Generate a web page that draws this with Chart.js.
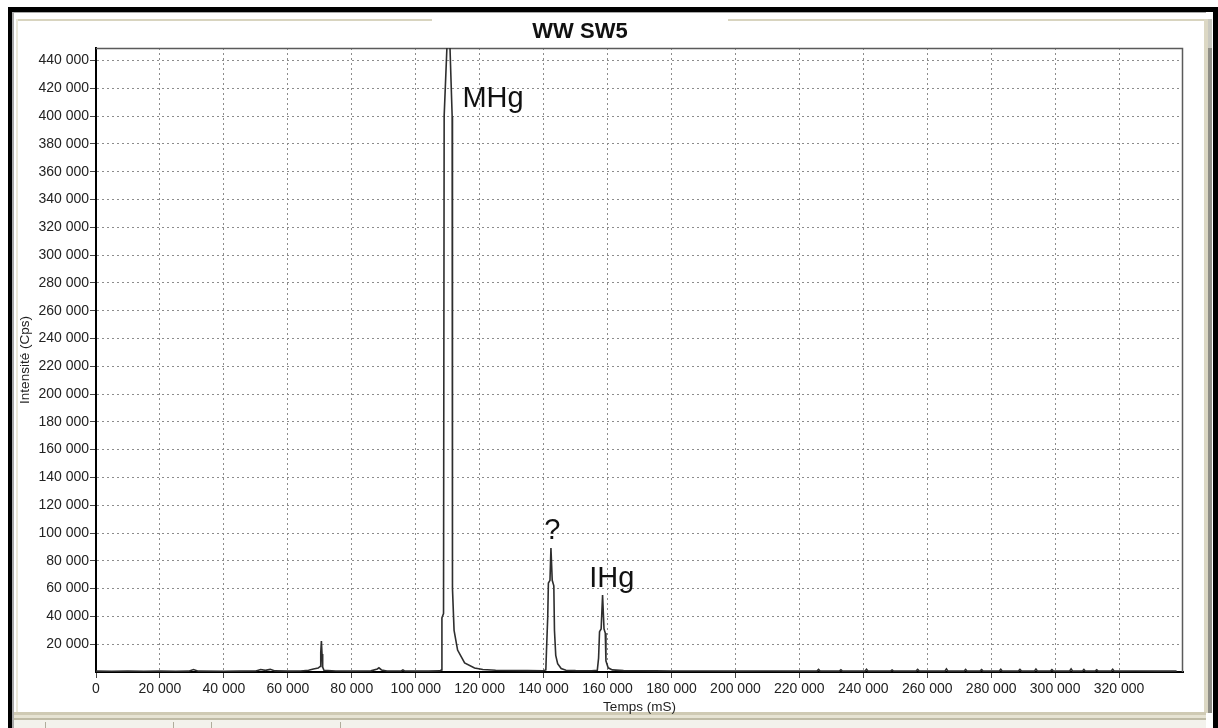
<!DOCTYPE html>
<html>
<head>
<meta charset="utf-8">
<script src="https://cdn.jsdelivr.net/npm/chart.js@4.4.0/dist/chart.umd.min.js"></script>
<style>
html,body{margin:0;padding:0;background:#fff;overflow:hidden}
#wrap{width:1218px;height:728px;position:relative}
</style>
</head>
<body>
<div id="wrap"><canvas id="c" width="1218" height="728"></canvas></div>
<script>
// ---- Data ----
const chartTitle = 'WW SW5';
const xAxisTitle = 'Temps (mS)';
const yAxisTitle = 'Intensité (Cps)';

const xTicks = [0, 20000, 40000, 60000, 80000, 100000, 120000, 140000, 160000, 180000,
                200000, 220000, 240000, 260000, 280000, 300000, 320000];
const yTicks = [20000, 40000, 60000, 80000, 100000, 120000, 140000, 160000, 180000, 200000,
                220000, 240000, 260000, 280000, 300000, 320000, 340000, 360000, 380000, 400000,
                420000, 440000];

const tempsMs = [
  0, 5000, 10000, 15000, 20000, 25000, 29000, 30500, 32000, 40000,
  45000, 50000, 51500, 53000, 54500, 56000, 60000, 64000, 66500, 68000,
  69500, 70100, 70300, 70500, 70700, 70900, 71300, 75000, 80000, 86000,
  88000, 88500, 89300, 91000, 95500, 96000, 96500, 100000, 104000, 107500,
  108100, 108200, 108700, 108900, 110300, 111400, 111500, 112000, 113100, 115300,
  118400, 121000, 125000, 130000, 135000, 139800, 140700, 140900, 141300, 141500,
  142000, 142300, 142700, 143200, 143400, 143800, 144400, 145500, 147000, 150000,
  155000, 156800, 157200, 157500, 158000, 158450, 158900, 159300, 159500, 160200,
  161500, 165000, 170000, 175000, 180000, 190000, 200000, 210000, 220000, 225500,
  226000, 226500, 232500, 233000, 233500, 240500, 241000, 241500, 248500, 249000,
  249500, 256500, 257000, 257500, 265500, 266000, 266500, 271500, 272000, 272500,
  276500, 277000, 277500, 282500, 283000, 283500, 288500, 289000, 289500, 293500,
  294000, 294500, 298500, 299000, 299500, 304500, 305000, 305500, 308500, 309000,
  309500, 312500, 313000, 313500, 317500, 318000, 318500, 325000, 332000, 338000
];
const intensiteCps = [
  600, 500, 600, 500, 600, 500, 600, 1800, 600, 500,
  600, 700, 1800, 1200, 1900, 800, 600, 700, 1200, 2200,
  2800, 4000, 14000, 22300, 13000, 3500, 1200, 700, 600, 800,
  2200, 3000, 1500, 700, 700, 1500, 700, 600, 600, 800,
  1500, 39000, 42000, 400000, 480000, 400000, 60000, 30000, 15800, 6500,
  2900, 1800, 1300, 1100, 1000, 900, 1500, 15000, 40000, 64000,
  66000, 89200, 66000, 62000, 30000, 12000, 6000, 2500, 1300, 1000,
  900, 1200, 10000, 29000, 31000, 55400, 31000, 28000, 8000, 3000,
  1500, 1000, 900, 800, 700, 700, 600, 700, 600, 600,
  1800, 600, 600, 1600, 600, 600, 2000, 600, 600, 1500,
  600, 600, 1800, 600, 600, 2200, 600, 600, 1900, 600,
  600, 1700, 600, 600, 2000, 600, 600, 1800, 600, 600,
  2100, 600, 600, 1700, 600, 600, 2200, 600, 600, 1900,
  600, 600, 1600, 600, 600, 2000, 600, 700, 600, 600
];

const peakLabels = ['MHg', '?', 'IHg'];
const peakLabelX = [114600, 140200, 154300];
const peakLabelY = [406500, 95700, 61200];

// ---- Helpers ----
const fmt = v => String(Math.round(v)).replace(/\B(?=(\d{3})+(?!\d))/g, ' ');
const FONT = "'Liberation Sans', Arial, sans-serif";

const points = tempsMs.map((t, i) => ({x: t, y: intensiteCps[i]}));

// Window decoration (screenshot frame) drawn behind the chart
const framePlugin = {
  id: 'frame',
  beforeDraw(chart) {
    const ctx = chart.ctx;
    const W = chart.width, H = chart.height;
    ctx.save();
    ctx.fillStyle = '#ffffff';
    ctx.fillRect(0, 0, W, H);
    // inner window light gray edges
    ctx.fillStyle = '#a9a9a9';
    ctx.fillRect(12, 12, 2, H - 12);
    ctx.fillRect(12, 12, W - 24, 1);
    // beige lines
    ctx.fillStyle = '#d8d4bf';
    ctx.fillRect(16, 19, 432 - 16, 2);
    ctx.fillRect(728, 19, 1208 - 728, 2);
    ctx.fillStyle = '#ebe8da';
    ctx.fillRect(16, 19, 2, 694);
    ctx.fillStyle = '#dcd8c4';
    ctx.fillRect(1204, 19, 4, 694);
    ctx.fillStyle = '#8f8e86';
    ctx.fillRect(1208, 48, 4, 665);
    ctx.fillStyle = '#c9c9c0';
    ctx.fillRect(1208, 19, 4, 29);
    // status bar at bottom
    ctx.fillStyle = '#cfcab4';
    ctx.fillRect(14, 712, W - 26, 3);
    ctx.fillStyle = '#e6e3d3';
    ctx.fillRect(14, 715, W - 26, 3);
    ctx.fillStyle = '#bfbba6';
    ctx.fillRect(14, 718, W - 26, 2);
    ctx.fillStyle = '#f3f2ec';
    ctx.fillRect(14, 720, W - 26, 8);
    ctx.fillStyle = '#b0ad9c';
    [45, 173, 211, 340].forEach(x => ctx.fillRect(x, 722, 1, 6));
    // black outer border
    ctx.fillStyle = '#000000';
    ctx.fillRect(8, 7, W - 8, 5);
    ctx.fillRect(8, 7, 4, H - 7);
    ctx.fillRect(1213, 7, 5, H - 7);
    // title
    ctx.fillStyle = '#111111';
    ctx.font = "bold 22px " + FONT;
    ctx.textAlign = 'center';
    ctx.textBaseline = 'alphabetic';
    ctx.fillText(chartTitle, 580, 38);
    ctx.restore();
  },
  beforeDatasetsDraw(chart) {
    const {ctx, chartArea: a} = chart;
    ctx.save();
    ctx.strokeStyle = '#5a5a5a';
    ctx.lineWidth = 1.5;
    ctx.beginPath();
    ctx.moveTo(a.left, a.top + 0.5);
    ctx.lineTo(a.right - 0.5, a.top + 0.5);
    ctx.lineTo(a.right - 0.5, a.bottom);
    ctx.stroke();
    ctx.restore();
  },
  afterDatasetsDraw(chart) {
    const ctx = chart.ctx;
    const xs = chart.scales.x, ys = chart.scales.y;
    ctx.save();
    ctx.fillStyle = '#111111';
    ctx.font = "29px " + FONT;
    ctx.textAlign = 'left';
    ctx.textBaseline = 'alphabetic';
    peakLabels.forEach((t, i) => {
      ctx.fillText(t, xs.getPixelForValue(peakLabelX[i]), ys.getPixelForValue(peakLabelY[i]));
    });
    ctx.restore();
  }
};

new Chart(document.getElementById('c'), {
  type: 'line',
  data: {
    datasets: [{
      data: points,
      borderColor: '#2e2e2e',
      borderWidth: 1.6,
      pointRadius: 0,
      tension: 0,
      fill: false
    }]
  },
  options: {
    responsive: false,
    animation: false,
    parsing: true,
    layout: {padding: {top: 48, left: 12, right: 35, bottom: 10}},
    plugins: {legend: {display: false}, tooltip: {enabled: false}, title: {display: false}},
    scales: {
      x: {
        type: 'linear',
        min: 0,
        max: 340000,
        afterBuildTicks: s => { s.ticks = xTicks.map(v => ({value: v})); },
        afterFit: s => { s.height = 46; },
        ticks: {
          callback: v => fmt(v),
          font: {family: FONT, size: 14},
          color: '#222',
          padding: 3,
          maxRotation: 0,
          autoSkip: false
        },
        grid: {color: '#8c8c8c', lineWidth: 1, tickLength: 6, tickColor: '#444', tickWidth: 1},
        border: {display: true, color: '#000', width: 2, dash: [2, 3]},
        title: {display: true, text: xAxisTitle, font: {family: FONT, size: 13.5}, color: '#222', padding: {top: 0, bottom: 3}}
      },
      y: {
        type: 'linear',
        min: 0,
        max: 449000,
        afterBuildTicks: s => { s.ticks = yTicks.map(v => ({value: v})); },
        afterFit: s => { s.width = 84; },
        ticks: {
          callback: v => fmt(v),
          font: {family: FONT, size: 14},
          color: '#222',
          padding: 1,
          autoSkip: false
        },
        grid: {color: '#8c8c8c', lineWidth: 1, tickLength: 6, tickColor: '#444', tickWidth: 1},
        border: {display: true, color: '#000', width: 2, dash: [2, 3]},
        title: {display: true, text: yAxisTitle, font: {family: FONT, size: 13.5}, color: '#222', padding: {top: 5, bottom: 0}}
      }
    }
  },
  plugins: [framePlugin]
});
</script>
</body>
</html>
